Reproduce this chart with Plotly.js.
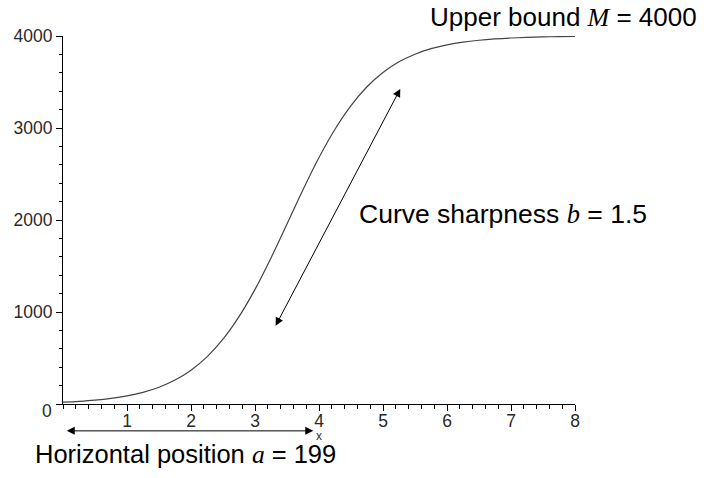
<!DOCTYPE html>
<html>
<head>
<meta charset="utf-8">
<script src="https://cdn.plot.ly/plotly-3.0.1.min.js"></script>
<style>html,body{margin:0;padding:0;background:#fff;}#chart{width:704px;height:478px;}</style>
</head>
<body>
<div id="chart"></div>
<script>
// Curve values
const xValues = [0, 0.25, 0.5, 0.75, 1, 1.25, 1.5, 1.75, 2, 2.25, 2.5, 2.75, 3, 3.25, 3.5, 3.75, 4,
  4.25, 4.5, 4.75, 5, 5.25, 5.5, 5.75, 6, 6.25, 6.5, 6.75, 7, 7.25, 7.5, 7.75, 8];
const yValues = [20, 29, 42, 61, 88, 127, 182, 260, 367, 512, 704, 949, 1246, 1588, 1957, 2329, 2679,
  2987, 3244, 3448, 3603, 3719, 3802, 3862, 3904, 3934, 3954, 3968, 3978, 3985, 3990, 3993, 3995];
const xTickVals = [1, 2, 3, 4, 5, 6, 7, 8];
const xTickText = ['1', '2', '3', '4', '5', '6', '7', '8'];
const yTickVals = [0, 1000, 2000, 3000, 4000];
const yTickText = ['', '1000', '2000', '3000', '4000'];
const labelUpper = 'Upper bound <span style="font-family:\'Liberation Serif\';font-style:italic">M</span> = 4000';
const labelSharp = 'Curve sharpness <span style="font-family:\'Liberation Serif\';font-style:italic">b</span> = 1.5';
const labelHoriz = 'Horizontal position <span style="font-family:\'Liberation Serif\';font-style:italic">a</span> = 199';

const tickFont = {family: 'Liberation Sans, Arial, sans-serif', size: 17.5, color: '#2a2a2a'};
const textFont = {family: 'Liberation Sans, Arial, sans-serif', size: 26, color: '#000'};

const trace = {
  x: xValues, y: yValues, type: 'scatter', mode: 'lines',
  line: {color: '#444', width: 1.2, shape: 'spline'},
  hoverinfo: 'skip', showlegend: false
};

const layout = {
  width: 704, height: 478,
  margin: {l: 63, r: 129, t: 36, b: 74},
  paper_bgcolor: '#fff', plot_bgcolor: '#fff',
  xaxis: {
    range: [0, 8], showgrid: false, zeroline: false, showline: true, linecolor: '#000', linewidth: 1,
    ticks: 'outside', ticklen: 6, tickcolor: '#000', tickvals: xTickVals, ticktext: xTickText,
    ticklabelstandoff: -5,
    tickfont: tickFont, minor: {dtick: 0.2, ticks: 'outside', ticklen: 4, tickcolor: '#000', showgrid: false}
  },
  yaxis: {
    range: [0, 4000], showgrid: false, zeroline: false, showline: true, linecolor: '#000', linewidth: 1,
    ticks: 'outside', ticklen: 6, tickcolor: '#000', tickvals: yTickVals, ticktext: yTickText,
    tickfont: tickFont, minor: {dtick: 200, ticks: 'outside', ticklen: 3, tickcolor: '#000', showgrid: false}
  },
  annotations: [
    {xref: 'paper', yref: 'paper', x: 0, y: 0, xanchor: 'right', yanchor: 'middle', xshift: -9, yshift: -7,
     text: '0', showarrow: false, font: tickFont},
    {xref: 'paper', yref: 'paper', x: 0.713, y: 1.052, xanchor: 'left', yanchor: 'middle',
     text: labelUpper, showarrow: false, font: textFont},
    {xref: 'paper', yref: 'paper', x: 0.574, y: 0.516, xanchor: 'left', yanchor: 'middle',
     text: labelSharp, showarrow: false, font: {family: textFont.family, size: 26.5, color: '#000'}},
    {xref: 'paper', yref: 'paper', x: -0.058, y: -0.137, xanchor: 'left', yanchor: 'middle',
     text: labelHoriz, showarrow: false, font: {family: textFont.family, size: 25.5, color: '#000'}},
    {xref: 'x', yref: 'paper', x: 4, y: -0.087, xanchor: 'center', yanchor: 'middle',
     text: 'x', showarrow: false, font: {family: 'Liberation Sans, Arial, sans-serif', size: 12, color: '#333'}},
    {xref: 'x', yref: 'y', axref: 'x', ayref: 'y', x: 5.27, y: 3425, ax: 3.31, ay: 835,
     text: '', showarrow: true, arrowhead: 2, arrowside: 'end+start', arrowsize: 1.6, arrowwidth: 1, arrowcolor: '#000'},
    {xref: 'x', yref: 'paper', x: 3.91, y: -0.073, ax: -248, ay: 0,
     text: '', showarrow: true, arrowhead: 2, arrowside: 'end+start', arrowsize: 1.6, arrowwidth: 1, arrowcolor: '#000'}
  ]
};

Plotly.newPlot('chart', [trace], layout, {displayModeBar: false, staticPlot: true});
</script>
</body>
</html>
